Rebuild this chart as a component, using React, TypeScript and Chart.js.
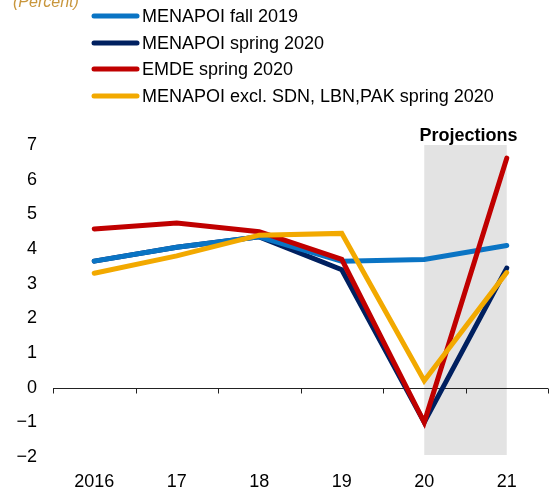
import React, { useEffect, useRef } from "react";
import { Chart, registerables } from "chart.js";

Chart.register(...registerables);

const categories = ["2016", "17", "18", "19", "20", "21"];
const menapoiFall2019 = [3.65, 4.05, 4.35, 3.65, 3.7, 4.1];
const menapoiSpring2020 = [3.65, 4.05, 4.35, 3.4, -1.0, 3.45];
const emdeSpring2020 = [4.58, 4.75, 4.5, 3.7, -1.0, 6.62];
const menapoiExcl = [3.3, 3.8, 4.4, 4.45, 0.2, 3.32];
const yTicks = [-2, -1, 0, 1, 2, 3, 4, 5, 6, 7];
const projectionStart = "20";
const projectionEnd = "21";

const FONT = "'Liberation Sans', Arial, sans-serif";

const customPlugin = {
  id: "custom",
  beforeDatasetsDraw(chart: any) {
    const { ctx, chartArea, scales } = chart;
    const x = scales.x;
    const y = scales.y;
    // Projection band
    const x0 = x.getPixelForValue(categories.indexOf(projectionStart));
    const x1 = x.getPixelForValue(categories.indexOf(projectionEnd));
    ctx.save();
    ctx.fillStyle = "#e3e3e3";
    ctx.fillRect(x0, chartArea.top, x1 - x0, chartArea.bottom - chartArea.top - 2);
    // Zero line with ticks
    const y0 = Math.round(y.getPixelForValue(0)) + 0.5;
    ctx.strokeStyle = "#222";
    ctx.lineWidth = 1;
    ctx.beginPath();
    ctx.moveTo(chartArea.left, y0);
    ctx.lineTo(chartArea.right, y0);
    const n = categories.length;
    const w = (chartArea.right - chartArea.left) / n;
    for (let i = 0; i <= n; i++) {
      const px = Math.round(chartArea.left + i * w) + 0.5;
      ctx.moveTo(px, y0);
      ctx.lineTo(px, y0 + 5);
    }
    ctx.stroke();
    // Projections label
    ctx.fillStyle = "#000";
    ctx.font = `bold 18px ${FONT}`;
    ctx.textAlign = "center";
    ctx.textBaseline = "alphabetic";
    ctx.fillText("Projections", (x0 + x1) / 2 + 3, chartArea.top - 4);
    ctx.restore();
  },
  afterDraw(chart: any) {
    const { ctx } = chart;
    ctx.save();
    // (Percent)
    ctx.fillStyle = "#c8963c";
    ctx.font = `italic 16px ${FONT}`;
    ctx.textAlign = "left";
    ctx.textBaseline = "alphabetic";
    ctx.fillText("(Percent)", 13, 7);
    // Legend
    const rows = [16, 43, 69, 96];
    const legendOrder = [0, 1, 2, 3];
    legendOrder.forEach((di, i) => {
      const ds = chart.data.datasets[di];
      const yy = rows[i];
      ctx.strokeStyle = ds.borderColor;
      ctx.lineWidth = 5;
      ctx.lineCap = "round";
      ctx.beginPath();
      ctx.moveTo(94, yy);
      ctx.lineTo(137, yy);
      ctx.stroke();
      ctx.fillStyle = "#000";
      ctx.font = `18px ${FONT}`;
      ctx.textBaseline = "middle";
      ctx.fillText(ds.label, 142, yy + 1);
    });
    ctx.restore();
  },
};

export default function App() {
  const ref = useRef<HTMLCanvasElement>(null);
  useEffect(() => {
    if (!ref.current) return;
    const common = {
      fill: false,
      tension: 0,
      pointRadius: 0,
      borderWidth: 5,
      borderCapStyle: "round" as const,
      borderJoinStyle: "miter" as const,
    };
    const chart = new Chart(ref.current, {
      type: "line",
      data: {
        labels: categories,
        datasets: [
          { ...common, label: "MENAPOI fall 2019", data: menapoiFall2019, borderColor: "#0a74c4", order: 2 },
          { ...common, label: "MENAPOI spring 2020", data: menapoiSpring2020, borderColor: "#002060", order: 3 },
          { ...common, label: "EMDE spring 2020", data: emdeSpring2020, borderColor: "#c00000", order: 1 },
          { ...common, label: "MENAPOI excl. SDN, LBN,PAK spring 2020", data: menapoiExcl, borderColor: "#f2a900", order: 0 },
        ],
      },
      options: {
        animation: false,
        responsive: false,
        devicePixelRatio: 1,
        layout: { padding: { top: 145, right: 4, bottom: 0, left: 0 } },
        plugins: { legend: { display: false }, tooltip: { enabled: false } },
        scales: {
          x: {
            offset: true,
            grid: { display: false, drawTicks: false },
            border: { display: false },
            ticks: { color: "#000", font: { family: FONT, size: 18 }, padding: 14, maxRotation: 0 },
            afterFit(scale: any) { scale.height = 32; },
          },
          y: {
            min: -2,
            max: 7,
            afterBuildTicks(scale: any) { scale.ticks = yTicks.map((v) => ({ value: v })); },
            grid: { display: false, drawTicks: false },
            border: { display: false },
            ticks: {
              color: "#000",
              font: { family: FONT, size: 18 },
              padding: 16,
              callback: (v: any) => (Number(v) < 0 ? "\u2212" + Math.abs(Number(v)) : String(v)),
            },
            afterFit(scale: any) { scale.width = 53; },
          },
        },
      },
      plugins: [customPlugin],
    });
    return () => chart.destroy();
  }, []);
  return (
    <div style={{ position: "fixed", left: 0, top: 0, width: 552, height: 489, background: "#fff" }}>
      <canvas ref={ref} width={552} height={489} style={{ width: 552, height: 489, display: "block" }} />
    </div>
  );
}
